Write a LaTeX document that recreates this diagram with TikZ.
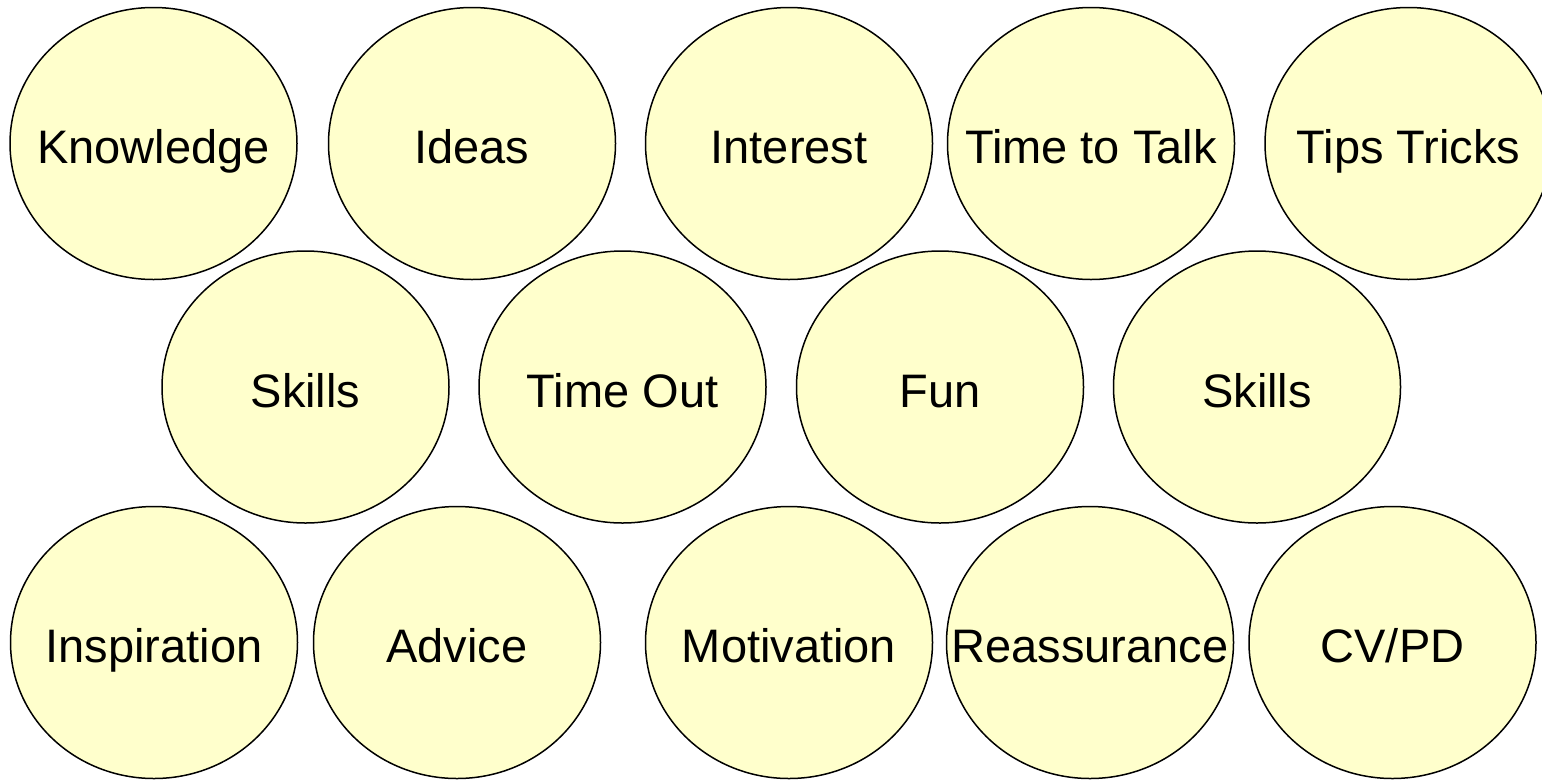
\documentclass[tikz,border=0pt]{standalone}
\usepackage{fontspec}
\setmainfont{Liberation Sans}
\usetikzlibrary{shapes.geometric}
\definecolor{bubblefill}{HTML}{FFFFCC}
\tikzset{
  bubble/.style={ellipse, draw=black, line width=1.5pt, fill=bubblefill,
    minimum width=287pt, minimum height=272pt, inner sep=0pt, outer sep=0pt},
  word/.style={anchor=base, inner sep=0pt,
    font=\fontsize{47}{56}\selectfont}
}
\begin{document}
\begin{tikzpicture}[x=1pt,y=-1pt]
  \clip (0,0) rectangle (1542,780);
  \fill[white] (0,0) rectangle (1542,780);
  % top row
  \node[bubble] (b1) at (153.5,143.5) {};
  \node[bubble] (b2) at (472,143.5) {};
  \node[bubble] (b3) at (789,143.5) {};
  \node[bubble] (b4) at (1091,143.5) {};
  \node[bubble] (b5) at (1408.5,143.5) {};
  % middle row
  \node[bubble] (m1) at (305.5,387) {};
  \node[bubble] (m2) at (622.5,387) {};
  \node[bubble] (m3) at (940,387) {};
  \node[bubble] (m4) at (1257,387) {};
  % bottom row
  \node[bubble] (c1) at (154,642.5) {};
  \node[bubble] (c2) at (457,642.5) {};
  \node[bubble] (c3) at (789,642.5) {};
  \node[bubble] (c4) at (1090,642.5) {};
  \node[bubble] (c5) at (1392.5,642.5) {};
  % labels, baseline a little below each centre
  \node[word] (t1) at ([yshift=-20pt]b1.center) {Knowledge};
  \node[word] (t2) at ([yshift=-20pt]b2.center) {Ideas};
  \node[word] (t3) at ([yshift=-20pt]b3.center) {Interest};
  \node[word] (t4) at ([yshift=-20pt]b4.center) {Time to Talk};
  \node[word] (t5) at ([yshift=-20pt]b5.center) {Tips Tricks};
  \node[word] (u1) at ([yshift=-20pt]m1.center) {Skills};
  \node[word] (u2) at ([yshift=-20pt]m2.center) {Time Out};
  \node[word] (u3) at ([yshift=-20pt]m3.center) {Fun};
  \node[word] (u4) at ([yshift=-20pt]m4.center) {Skills};
  \node[word] (v1) at ([yshift=-20pt]c1.center) {Inspiration};
  \node[word] (v2) at ([yshift=-20pt]c2.center) {Advice};
  \node[word] (v3) at ([yshift=-20pt]c3.center) {Motivation};
  \node[word] (v4) at ([yshift=-20pt]c4.center) {Reassurance};
  \node[word] (v5) at ([yshift=-20pt]c5.center) {CV/PD};
\end{tikzpicture}
\end{document}
